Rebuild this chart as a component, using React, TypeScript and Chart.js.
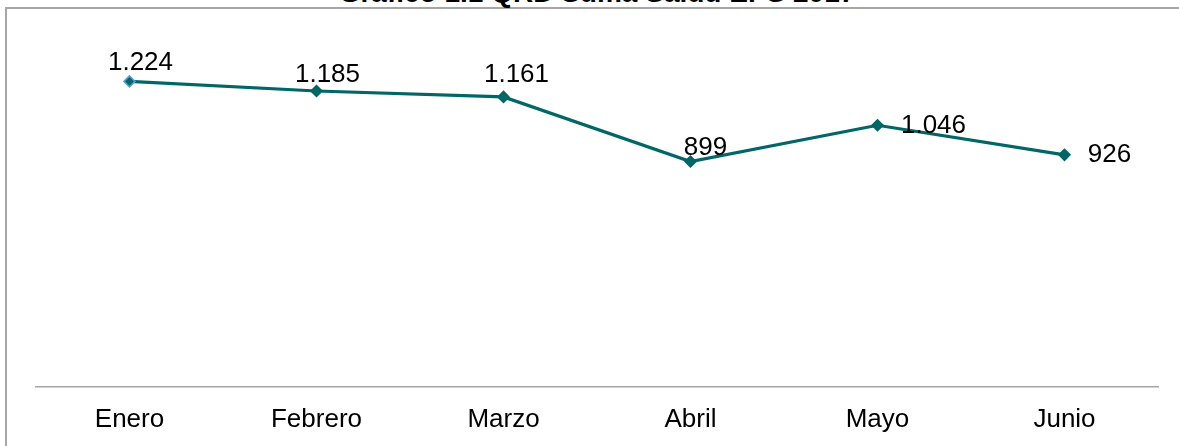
import React, { useEffect, useRef } from "react";
import { Chart, registerables } from "chart.js";

Chart.register(...registerables);

const TITLE = "Gráfico 1.1 QRD Suma Salud EPS 2017";
const MONTHS = ["Enero", "Febrero", "Marzo", "Abril", "Mayo", "Junio"];
const QRD_VALUES = [1224, 1185, 1161, 899, 1046, 926];

// label placement relative to each point (style only)
const LABEL_OFFSETS: [number, number][] = [
  [11, -19],
  [11, -16],
  [13, -22],
  [15, -14],
  [56, 1],
  [45, 0],
];

const TEAL = "#006666";
const FONT = "'Liberation Sans', Arial, sans-serif";

function fmt(v: number): string {
  return String(v).replace(/\B(?=(\d{3})+(?!\d))/g, ".");
}

const dataLabelPlugin = {
  id: "dataLabels",
  afterDatasetsDraw(chart: any) {
    const ctx = chart.ctx;
    const meta = chart.getDatasetMeta(0);
    ctx.save();
    ctx.font = `26px ${FONT}`;
    ctx.fillStyle = "#000000";
    ctx.textAlign = "center";
    ctx.textBaseline = "middle";
    meta.data.forEach((pt: any, i: number) => {
      const [dx, dy] = LABEL_OFFSETS[i] || [0, -18];
      ctx.fillText(fmt(QRD_VALUES[i]), pt.x + dx, pt.y + dy);
    });
    ctx.restore();
  },
};

export default function App() {
  const canvasRef = useRef<HTMLCanvasElement | null>(null);

  useEffect(() => {
    if (!canvasRef.current) return;
    const chart = new Chart(canvasRef.current, {
      type: "line",
      data: {
        labels: MONTHS,
        datasets: [
          {
            data: QRD_VALUES,
            borderColor: TEAL,
            borderWidth: 3.2,
            backgroundColor: TEAL,
            pointStyle: "rectRot",
            pointRadius: 5.5,
            pointBorderWidth: 1.5,
            pointBackgroundColor: TEAL,
            pointBorderColor: ["#5B9BD5", TEAL, TEAL, TEAL, TEAL, TEAL],
            tension: 0,
            clip: false as any,
          },
        ],
      },
      options: {
        responsive: false,
        animation: false,
        layout: { padding: { left: 36, right: 21, top: 38, bottom: 0 } },
        plugins: {
          legend: { display: false },
          title: { display: false },
          tooltip: { enabled: false },
        },
        scales: {
          x: {
            offset: true,
            grid: { display: false, drawTicks: false },
            border: { display: true, color: "#A6A6A6", width: 1.5 },
            ticks: {
              padding: 17,
              color: "#000000",
              font: { family: FONT, size: 26 },
            },
          },
          y: {
            display: false,
            min: -15,
            max: 1400,
          },
        },
      },
      plugins: [dataLabelPlugin],
    });
    return () => chart.destroy();
  }, []);

  return (
    <div
      style={{
        position: "absolute",
        left: 0,
        top: 0,
        width: 1179,
        height: 446,
        overflow: "hidden",
        background: "#ffffff",
      }}
    >
      <div
        style={{
          position: "absolute",
          left: 5,
          top: 7,
          width: 1300,
          height: 600,
          border: "2px solid #A6A6A6",
          boxSizing: "border-box",
        }}
      />
      <div
        style={{
          position: "absolute",
          left: 0,
          width: 1194,
          top: -21,
          textAlign: "center",
          fontFamily: FONT,
          fontWeight: "bold",
          fontSize: 28,
          lineHeight: "28px",
          color: "#000000",
          whiteSpace: "nowrap",
        }}
      >
        {TITLE}
      </div>
      <canvas
        ref={canvasRef}
        width={1179}
        height={452}
        style={{ position: "absolute", left: 0, top: 0 }}
      />
    </div>
  );
}
